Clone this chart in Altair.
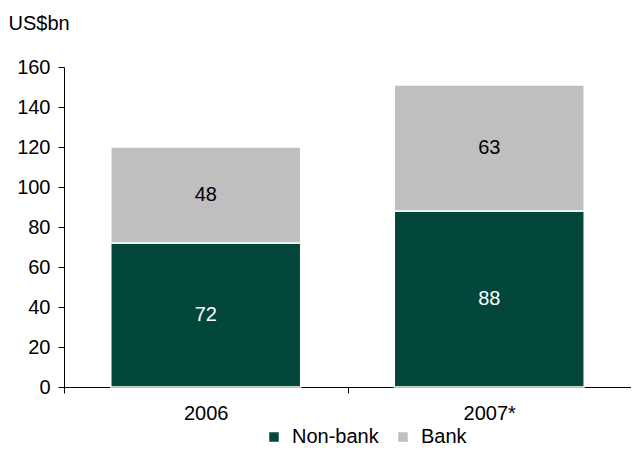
import altair as alt
import pandas as pd

years = ["2006", "2007*"]
series = ["Non-bank", "Bank"]
non_bank = [72, 88]
bank = [48, 63]
colors = ["#03463A", "#BFBFBF"]
y_ticks = [0, 20, 40, 60, 80, 100, 120, 140, 160]

rows = []
for i, y in enumerate(years):
    rows.append({"year": y, "series": "Non-bank", "value": non_bank[i], "order": 0, "tc": "white"})
    rows.append({"year": y, "series": "Bank", "value": bank[i], "order": 1, "tc": "black"})
df = pd.DataFrame(rows)

FONT = "Liberation Sans"
FS = 20

x_axis = alt.Axis(labelAngle=0, domainColor="black", tickColor="black",
                  tickSize=6, tickBand="extent", labelPadding=10,
                  labelColor="black", labelFont=FONT, labelFontSize=FS, grid=False)
x_scale = alt.Scale(paddingInner=0, paddingOuter=0)

y_axis = alt.Axis(values=y_ticks, labelOverlap=False,
                  title="US$bn", titleAngle=0,
                  titleX=-56, titleY=-38, titleAlign="left", titleBaseline="alphabetic",
                  titleFont=FONT, titleFontSize=FS, titleFontWeight="normal",
                  titleColor="black",
                  domainColor="black", tickColor="black", tickSize=6,
                  labelPadding=8, labelColor="black", labelFont=FONT,
                  labelFontSize=FS, grid=False)
y_scale = alt.Scale(domain=[0, 160])

bars = alt.Chart(df).mark_bar(stroke="white", strokeWidth=1.5,
                              width=alt.RelativeBandSize(0.67)).encode(
    x=alt.X("year:N", sort=years, title=None, scale=x_scale, axis=x_axis),
    y=alt.Y("value:Q", stack="zero", scale=y_scale, axis=y_axis),
    color=alt.Color("series:N", sort=series,
                    scale=alt.Scale(domain=series, range=colors),
                    legend=alt.Legend(title=None, orient="none", direction="horizontal",
                                      legendX=200, legendY=360, symbolType="square",
                                      symbolSize=90, symbolStrokeWidth=0,
                                      labelFont=FONT, labelFontSize=FS, labelColor="black",
                                      columnPadding=14, labelOffset=8)),
    order=alt.Order("order:Q"),
)

labels = alt.Chart(df).mark_text(font=FONT, fontSize=FS, baseline="middle").encode(
    x=alt.X("year:N", sort=years, title=None, scale=x_scale, axis=x_axis),
    y=alt.Y("value:Q", stack="zero", bandPosition=0.5, scale=y_scale, axis=y_axis),
    detail="series:N",
    order=alt.Order("order:Q"),
    text="value:Q",
    color=alt.Color("tc:N", scale=None, legend=None),
)

chart = alt.layer(bars, labels).properties(
    width=567, height=320,
    autosize=alt.AutoSizeParams(type="none"),
    padding={"left": 56, "top": 59, "right": 0, "bottom": 59},
).configure_view(stroke=None)

chart.save("out.html", embed_options={"renderer": "svg", "actions": False})
